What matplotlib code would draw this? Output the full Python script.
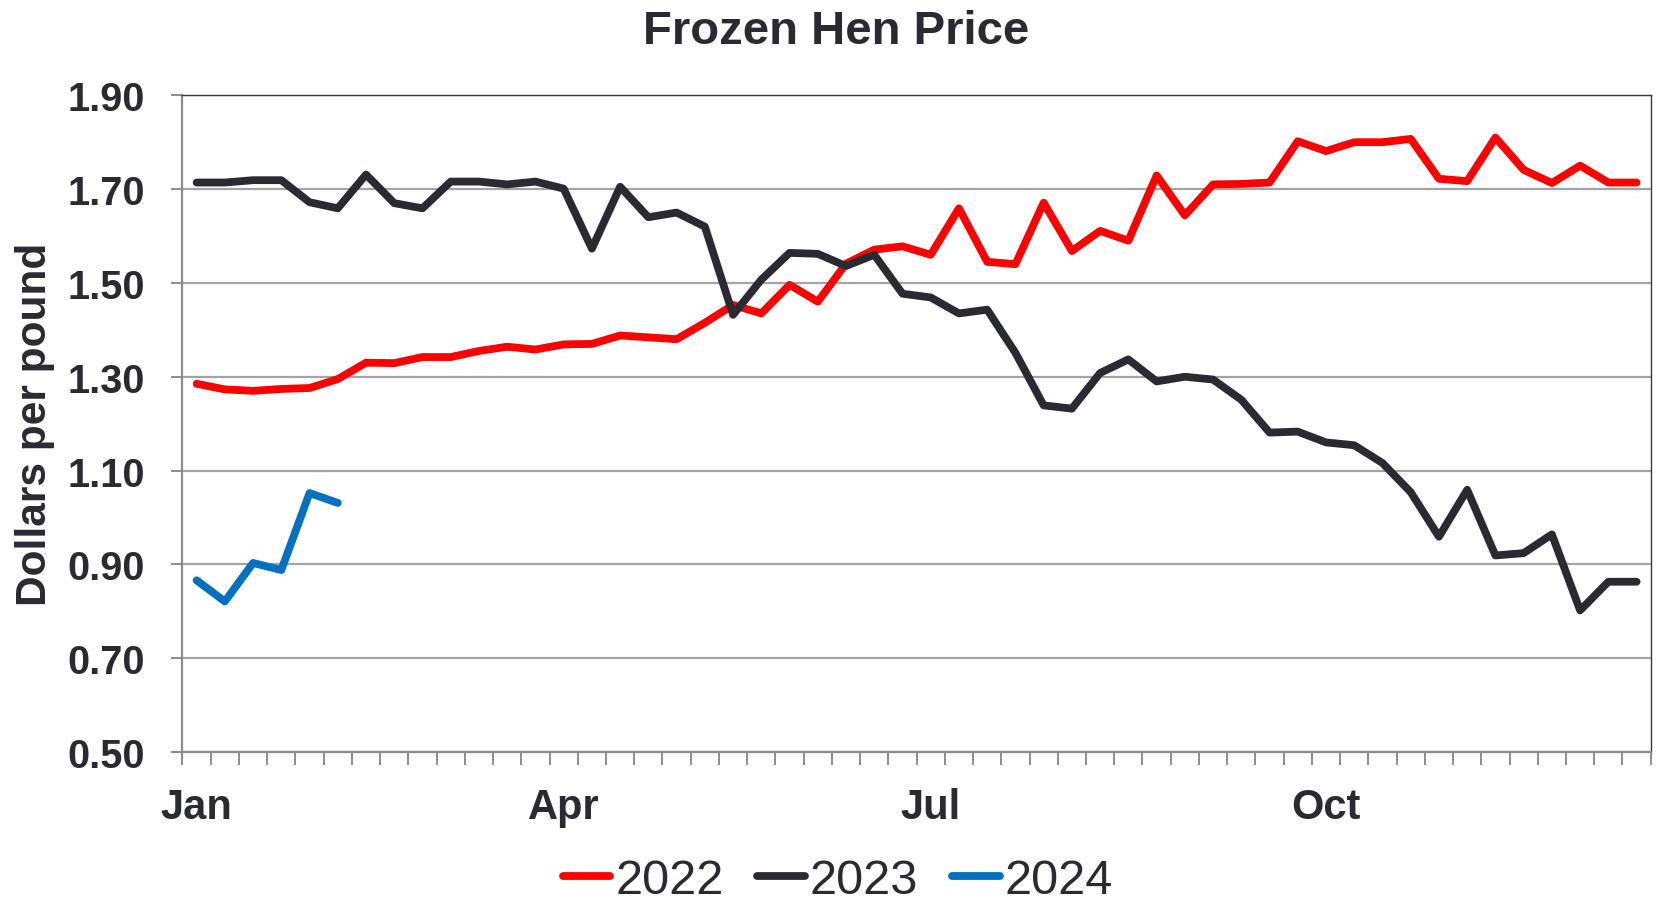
import numpy as np
import matplotlib
matplotlib.use("Agg")
import matplotlib.pyplot as plt

plt.rcParams['font.family'] = ['Liberation Sans', 'DejaVu Sans']

# weekly frozen hen prices, dollars per pound
p2022 = [1.285, 1.273, 1.270, 1.274, 1.276, 1.295, 1.330, 1.329, 1.342, 1.342,
         1.355, 1.364, 1.358, 1.369, 1.370, 1.388, 1.384, 1.380, 1.415, 1.453,
         1.435, 1.496, 1.460, 1.541, 1.571, 1.578, 1.560, 1.659, 1.545, 1.540,
         1.671, 1.568, 1.611, 1.590, 1.729, 1.644, 1.710, 1.711, 1.714, 1.802,
         1.781, 1.800, 1.800, 1.807, 1.722, 1.717, 1.810, 1.741, 1.713, 1.750,
         1.714, 1.714]
p2023 = [1.714, 1.714, 1.719, 1.719, 1.672, 1.659, 1.731, 1.670, 1.659, 1.716,
         1.716, 1.710, 1.716, 1.701, 1.573, 1.705, 1.640, 1.650, 1.620, 1.432,
         1.507, 1.564, 1.562, 1.536, 1.560, 1.477, 1.469, 1.435, 1.443, 1.351,
         1.239, 1.232, 1.308, 1.337, 1.290, 1.300, 1.294, 1.251, 1.181, 1.183,
         1.160, 1.154, 1.116, 1.054, 0.959, 1.059, 0.919, 0.924, 0.964, 0.802,
         0.863, 0.863]
p2024 = [0.866, 0.821, 0.903, 0.888, 1.052, 1.031]

month_pos = [0, 13, 26, 40]
month_labels = ['Jan', 'Apr', 'Jul', 'Oct']
yticks = [0.50, 0.70, 0.90, 1.10, 1.30, 1.50, 1.70, 1.90]

text_col = '#2a2a33'

fig = plt.figure(figsize=(16.59, 9.04), dpi=100)
ax = fig.add_axes([0.110, 0.167, 0.885, 0.7265])

lw = 5.6
ax.plot(np.arange(len(p2022)), p2022, color='#ff0000', lw=lw, label='2022',
        solid_capstyle='round', zorder=3)
ax.plot(np.arange(len(p2023)), p2023, color='#2a2a33', lw=lw, label='2023',
        solid_capstyle='round', zorder=4)
ax.plot(np.arange(len(p2024)), p2024, color='#0070c0', lw=lw, label='2024',
        solid_capstyle='round', zorder=5)

ax.set_xlim(-0.5, 51.5)
ax.set_ylim(0.5, 1.9)

ax.set_yticks(yticks)
ax.set_yticklabels(['%.2f' % v for v in yticks], fontsize=28.5,
                   fontweight='bold', color=text_col)
ax.yaxis.grid(True, color='#a4a4a4', lw=1.6)
ax.set_axisbelow(True)
ax.tick_params(axis='y', length=8, width=1.4, color='#8c8c8c', pad=19)

ax.set_xticks(month_pos)
ax.set_xticklabels(month_labels, fontsize=30, fontweight='bold', color=text_col)
ax.set_xticks(np.arange(-0.5, 52, 1), minor=True)
ax.tick_params(axis='x', which='major', length=0, pad=25)
ax.tick_params(axis='x', which='minor', length=9, width=1.4, color='#8c8c8c')

for s in ['left', 'bottom']:
    ax.spines[s].set_color('#8c8c8c')
    ax.spines[s].set_linewidth(1.6)
for s in ['top', 'right']:
    ax.spines[s].set_color('#3a3a3a')
    ax.spines[s].set_linewidth(1.0)

ax.set_ylabel('Dollars per pound', fontsize=30.5, fontweight='bold',
              color=text_col)
ax.yaxis.set_label_coords(-0.087, 0.5)

fig.suptitle('Frozen Hen Price', fontsize=34, fontweight='bold',
             color=text_col, x=0.504, y=0.989)

leg = fig.legend(loc='center', bbox_to_anchor=(0.505, 0.025), ncol=3,
                 frameon=False, fontsize=35, handlelength=0.98,
                 handletextpad=0.1, columnspacing=0.7, borderaxespad=0)
for t in leg.get_texts():
    t.set_color(text_col)

fig.savefig('out.png', dpi=100)
